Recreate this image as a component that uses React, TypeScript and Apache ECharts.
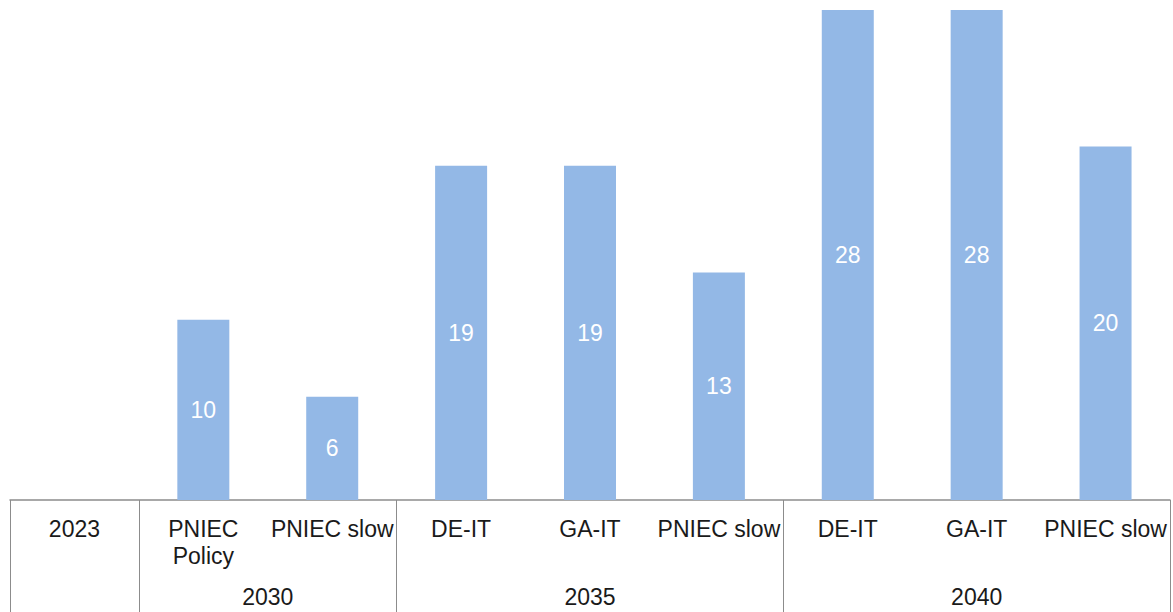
import React, { useEffect, useRef } from "react";
import * as echarts from "echarts";

const categories = ["2023", "PNIEC\nPolicy", "PNIEC slow", "DE-IT", "GA-IT", "PNIEC slow", "DE-IT", "GA-IT", "PNIEC slow"];
const values = [0, 10.3, 5.9, 19.1, 19.1, 13.0, 28, 28, 20.2];
const groupLabels = ["2030", "2035", "2040"];
const groupCenters = [2, 4.5, 7.5];
const groupBoundaries = [0, 1, 3, 6];

const FONT = "'Liberation Sans', Arial, sans-serif";
const LINE = "#8c8c8c";

export default function App() {
  const ref = useRef<HTMLDivElement>(null);
  useEffect(() => {
    document.body.style.margin = "0";
    const chart = echarts.init(ref.current!, null, { renderer: "svg" });
    chart.setOption({
      animation: false,
      grid: { left: 10, right: 3, top: 10, bottom: 112, containLabel: false },
      xAxis: [
        {
          type: "category",
          data: categories,
          position: "bottom",
          axisLine: { show: true, lineStyle: { color: LINE, width: 1.5 } },
          axisTick: {
            show: true,
            interval: (i: number) => groupBoundaries.includes(i),
            length: 112,
            lineStyle: { color: LINE, width: 1 },
          },
          axisLabel: {
            interval: 0,
            margin: 15,
            fontSize: 23,
            lineHeight: 27,
            color: "#1a1a1a",
            fontFamily: FONT,
          },
        },
        {
          type: "value",
          position: "bottom",
          min: 0,
          max: 9,
          interval: 0.5,
          axisLine: { show: false },
          axisTick: { show: false },
          splitLine: { show: false },
          axisLabel: {
            margin: 85,
            fontSize: 23,
            color: "#1a1a1a",
            fontFamily: FONT,
            showMinLabel: true,
            showMaxLabel: true,
            formatter: (v: number) => {
              const k = groupCenters.indexOf(v);
              return k >= 0 ? groupLabels[k] : "";
            },
          },
        },
      ],
      yAxis: {
        type: "value",
        min: 0,
        max: 28,
        show: false,
        splitLine: { show: false },
      },
      series: [
        {
          type: "bar",
          xAxisIndex: 0,
          data: values,
          barWidth: 52,
          itemStyle: { color: "#93b8e6" },
          label: {
            show: true,
            position: "inside",
            color: "#ffffff",
            fontSize: 23,
            fontFamily: FONT,
            formatter: (p: any) => (p.value > 0 ? String(Math.round(p.value)) : ""),
          },
        },
      ],
    });
    return () => chart.dispose();
  }, []);
  return <div ref={ref} style={{ width: 1173, height: 612 }} />;
}
